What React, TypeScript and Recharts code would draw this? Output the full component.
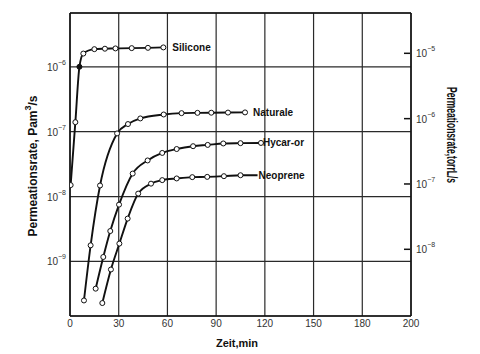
import { LineChart, Line, XAxis, YAxis, CartesianGrid, ReferenceLine } from 'recharts';

// Zeit (min) und Permeationsrate (Pa m3/s) je Material
const siliconeTime = [0.4, 3.3, 5.8, 8.2, 15, 21.5, 28, 38, 48, 57.5];
const siliconeRate = [1.5e-8, 1.4e-7, 1.0e-6, 1.6e-6, 1.87e-6, 1.9e-6, 1.92e-6, 1.94e-6, 1.96e-6, 1.99e-6];

const naturaleTime = [8.6, 12.7, 18.5, 29, 35.7, 43.3, 57.7, 68.7, 78.5, 87, 97.3, 107.8];
const naturaleRate = [2.5e-10, 1.77e-9, 1.48e-8, 9.4e-8, 1.31e-7, 1.6e-7, 1.84e-7, 1.93e-7, 1.95e-7, 1.96e-7, 1.97e-7, 1.98e-7];

const hycarTime = [15.8, 20.5, 24.8, 30.2, 38.6, 47.8, 56.8, 65.7, 75.8, 84.8, 94.4, 105, 117.6];
const hycarRate = [3.8e-10, 1.17e-9, 2.94e-9, 7.5e-9, 2.26e-8, 3.6e-8, 4.7e-8, 5.4e-8, 5.97e-8, 6.25e-8, 6.58e-8, 6.65e-8, 6.7e-8];

const neopreneTime = [19.9, 25.2, 30.4, 35.5, 42, 49.9, 56.8, 65.7, 75.3, 84.5, 94.8, 105, 115.5];
const neopreneRate = [2.28e-10, 7.5e-10, 1.88e-9, 4.57e-9, 1.11e-8, 1.58e-8, 1.79e-8, 1.9e-8, 1.99e-8, 2.01e-8, 2.06e-8, 2.13e-8, 2.13e-8];

const xTicks = [0, 30, 60, 90, 120, 150, 180, 210];
const xTickLabels = ['0', '30', '60', '90', '120', '150', '180', '200'];
const paTicks = [1e-9, 1e-8, 1e-7, 1e-6];
const torrTicks = [1e-8, 1e-7, 1e-6, 1e-5];

const paDomain = [1.44e-10, 6.75e-6];
const torrDomain = [9.53e-10, 4.14e-5];

const FONT = '"Liberation Sans", Arial, sans-serif';
const INK = '#111';

const series = [
  { name: 'Silicone', time: siliconeTime, rate: siliconeRate, labelDx: 9, filled: [2], hidden: [] as number[] },
  { name: 'Naturale', time: naturaleTime, rate: naturaleRate, labelDx: 8, filled: [], hidden: [] },
  { name: 'Hycar-or', time: hycarTime, rate: hycarRate, labelDx: 2, filled: [], hidden: [] },
  { name: 'Neoprene', time: neopreneTime, rate: neopreneRate, labelDx: 1, filled: [], hidden: [12] },
];

const supExp = (v: number) => '\u2212' + String(-Math.round(Math.log10(v)));

const PaTick = ({ x, y, payload }: any) => (
  <text x={x - 4} y={y} textAnchor="end" dominantBaseline="central" fontSize={10} fill="#333" fontFamily={FONT}>
    <tspan>10</tspan>
    <tspan dy={-5} fontSize={7}>{supExp(payload.value)}</tspan>
  </text>
);

const TorrTick = ({ x, y, payload }: any) => (
  <g>
    <line x1={x - 7} x2={x - 1} y1={y} y2={y} stroke={INK} strokeWidth={1.5} />
    <text x={x + 5} y={y} dominantBaseline="central" fontSize={10} fill="#333" fontFamily={FONT}>
      <tspan>10</tspan>
      <tspan dy={-5} fontSize={7}>{supExp(payload.value)}</tspan>
    </text>
  </g>
);

export default function App() {
  return (
    <div style={{ position: 'relative', width: 472, height: 346, background: '#fff' }}>
      <LineChart width={472} height={346} margin={{ top: 5, right: 29, left: 22, bottom: 8 }} style={{ fontFamily: FONT }}>
        <CartesianGrid yAxisId="pa" stroke="#2a2a2a" strokeWidth={1.2} />
        <XAxis
          dataKey="t"
          type="number"
          domain={[0, 210]}
          ticks={xTicks}
          tickFormatter={(v) => xTickLabels[xTicks.indexOf(v)]}
          tickLine={false}
          tickSize={2}
          tickMargin={2}
          height={30}
          stroke={INK}
          strokeWidth={1.5}
          tick={{ fill: '#333', fontSize: 10 }}
          allowDataOverflow
        />
        <YAxis
          yAxisId="pa"
          scale="log"
          domain={paDomain}
          ticks={paTicks}
          allowDataOverflow
          width={40}
          tickLine={false}
          tickSize={0}
          tickMargin={0}
          stroke={INK}
          strokeWidth={1.5}
          tick={<PaTick />}
        />
        <YAxis
          yAxisId="torr"
          orientation="right"
          scale="log"
          domain={torrDomain}
          ticks={torrTicks}
          allowDataOverflow
          width={40}
          tickLine={false}
          tickSize={0}
          tickMargin={0}
          stroke={INK}
          strokeWidth={1.5}
          tick={<TorrTick />}
        />
        <ReferenceLine yAxisId="pa" y={paDomain[1]} stroke={INK} strokeWidth={1.5} ifOverflow="extendDomain" />
        {series.map((s) => {
          const data = s.time.map((t, i) => ({ t, v: s.rate[i] }));
          const last = data.length - 1;
          return (
            <Line
              key={s.name}
              yAxisId="pa"
              data={data}
              dataKey="v"
              type="monotone"
              stroke={INK}
              strokeWidth={1.9}
              isAnimationActive={false}
              activeDot={false}
              dot={(p: any) =>
                s.hidden.includes(p.index) ? (
                  <g key={`${s.name}-d${p.index}`} />
                ) : (
                  <circle
                    key={`${s.name}-d${p.index}`}
                    cx={p.cx}
                    cy={p.cy}
                    r={2.5}
                    fill={s.filled.includes(p.index) ? INK : '#fff'}
                    stroke={INK}
                    strokeWidth={1}
                  />
                )
              }
              label={(p: any) =>
                p.index === last ? (
                  <text
                    key={`${s.name}-lbl`}
                    x={p.x + s.labelDx}
                    y={p.y}
                    dominantBaseline="central"
                    fontSize={10}
                    fontWeight="bold"
                    fill={INK}
                    fontFamily={FONT}
                  >
                    {s.name}
                  </text>
                ) : (
                  <g key={`${s.name}-l${p.index}`} />
                )
              }
            />
          );
        })}
      </LineChart>
      <svg width={472} height={346} style={{ position: 'absolute', left: 0, top: 0, pointerEvents: 'none' }}>
        <text
          transform="translate(25,158) rotate(-90)"
          textAnchor="middle"
          dominantBaseline="central"
          fontSize={12}
          fontWeight="bold"
          fill={INK}
          fontFamily={FONT}
        >
          Permeationsrate, Pam<tspan dy={-5} fontSize={9}>3</tspan>
          <tspan dy={5}>/s</tspan>
        </text>
        <text
          transform="translate(444,127) rotate(90)"
          textAnchor="middle"
          dominantBaseline="central"
          fontSize={14}
          fontWeight="bold"
          fill={INK}
          fontFamily={FONT}
          textLength={96}
          lengthAdjust="spacingAndGlyphs"
        >
          Permeationsrate,torrL/s
        </text>
        <text x={229} y={335} textAnchor="middle" dominantBaseline="central" fontSize={11} fontWeight="bold" fill={INK} fontFamily={FONT}>
          Zeit,min
        </text>
      </svg>
    </div>
  );
}
